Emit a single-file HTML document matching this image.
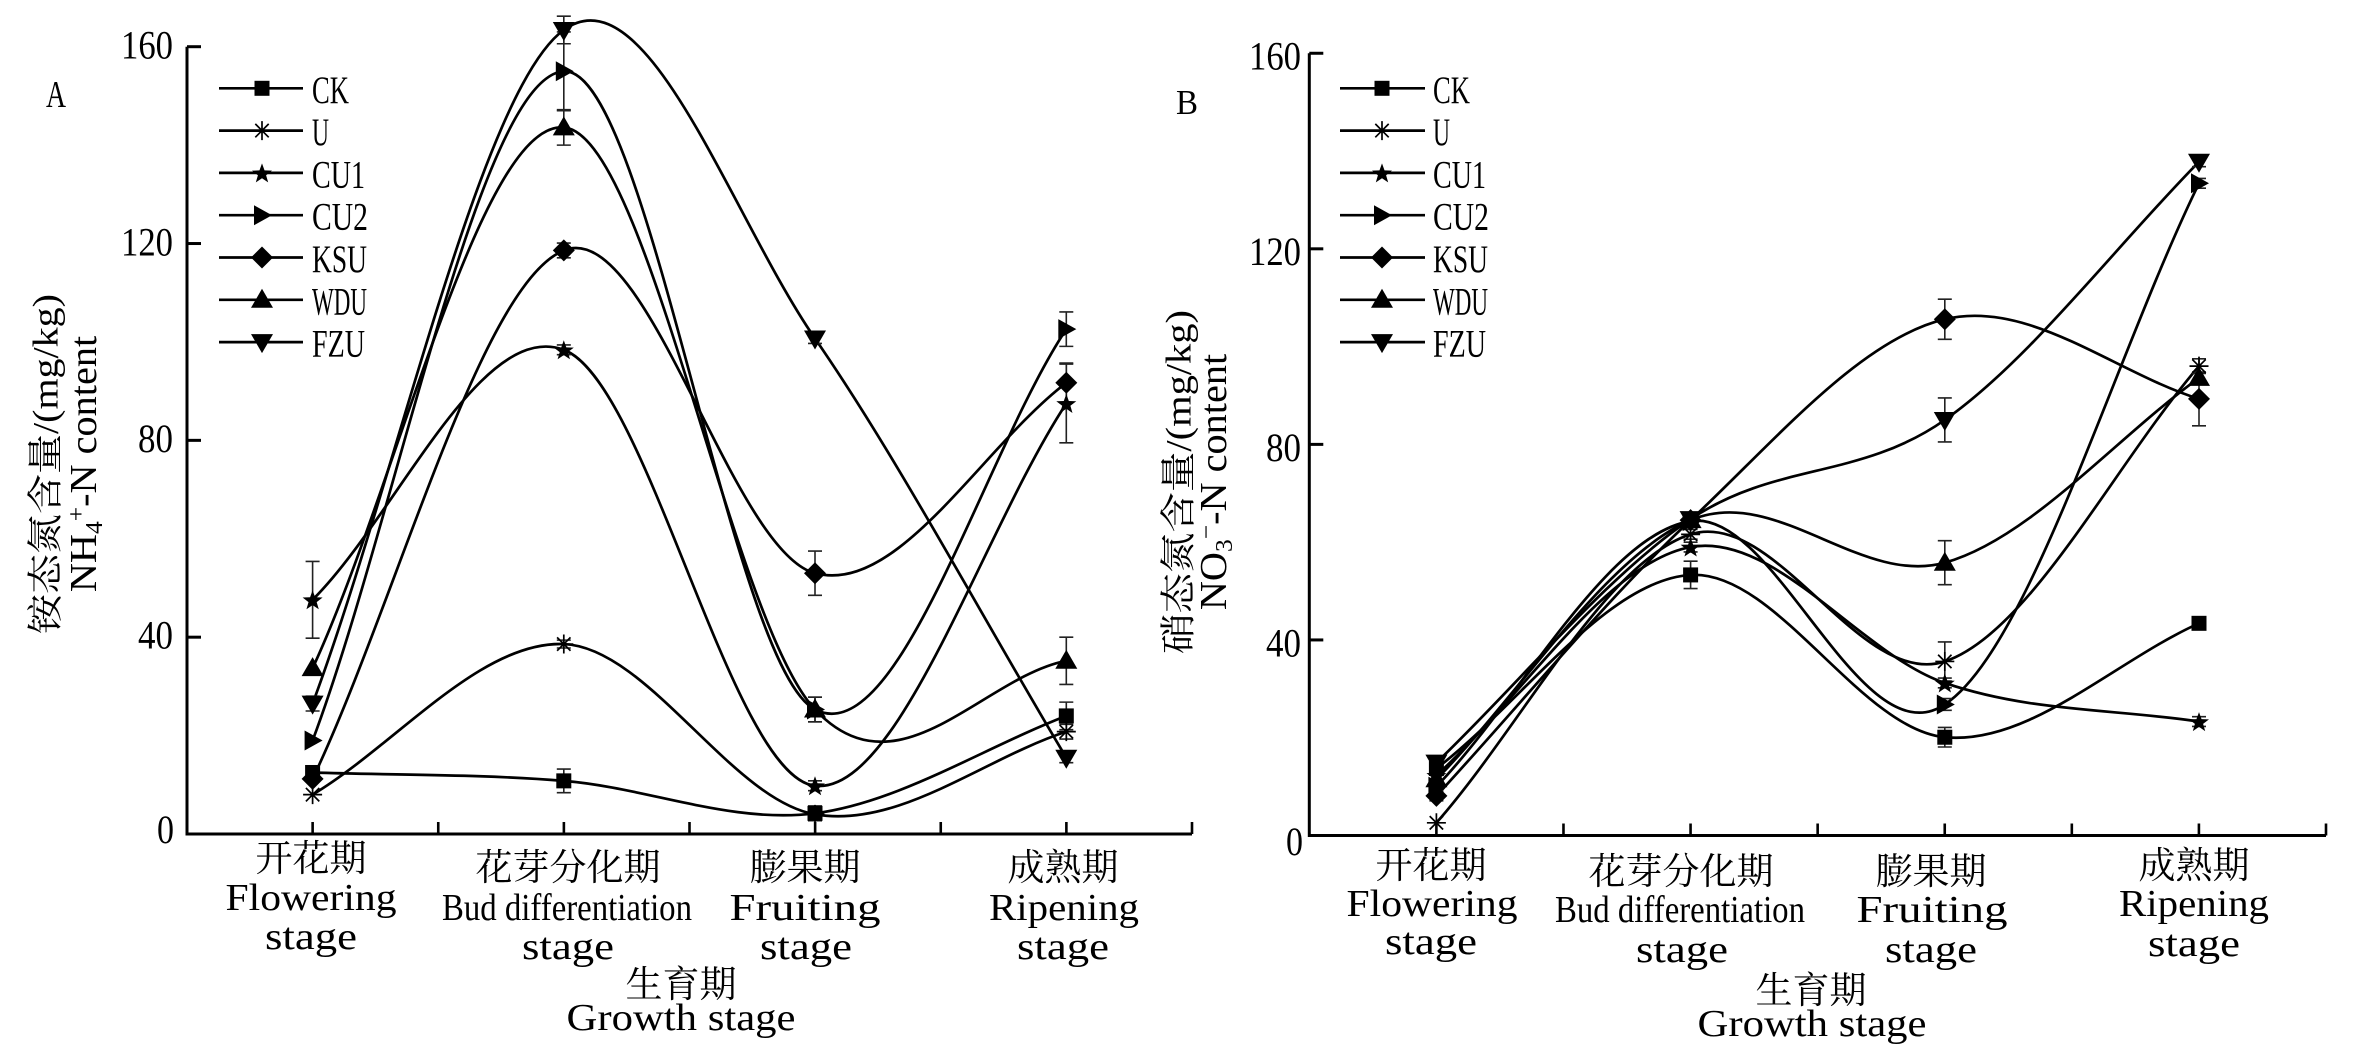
<!DOCTYPE html>
<html>
<head>
<meta charset="utf-8">
<style>
html,body{margin:0;padding:0;background:#fff;}
svg{display:block;}
.ser{font-family:"Liberation Serif","Noto Serif CJK SC",serif;}
.cjk{font-family:"Liberation Serif","Noto Serif CJK SC",serif;}
.lat{font-family:"Liberation Serif","Noto Serif CJK SC",serif;}
</style>
</head>
<body>
<svg id="chart" width="2362" height="1046" viewBox="0 0 2362 1046" xmlns="http://www.w3.org/2000/svg">
<rect width="2362" height="1046" fill="#fff"/>

<!-- ===== Panel A static ===== -->
<text class="ser" x="46" y="107" font-size="38" textLength="20" lengthAdjust="spacingAndGlyphs">A</text>
<g class="ser" font-size="40" text-anchor="end">
  <text x="173" y="58.7" textLength="52" lengthAdjust="spacingAndGlyphs">160</text>
  <text x="173" y="255.3" textLength="52" lengthAdjust="spacingAndGlyphs">120</text>
  <text x="173" y="452" textLength="35" lengthAdjust="spacingAndGlyphs">80</text>
  <text x="173" y="648.6" textLength="35" lengthAdjust="spacingAndGlyphs">40</text>
  <text x="174" y="843" textLength="17" lengthAdjust="spacingAndGlyphs">0</text>
</g>
<g transform="translate(44,464) rotate(-90)">
  <text class="cjk" x="0" y="13.5" font-size="36" text-anchor="middle" textLength="340" lengthAdjust="spacingAndGlyphs">铵态氮含量/(mg/kg)</text>
</g>
<g transform="translate(84,464) rotate(-90) scale(1.06,1)">
  <text class="lat" x="0" y="12" font-size="38" text-anchor="middle">NH<tspan font-size="24" dy="6">4</tspan><tspan font-size="24" dy="-18">+</tspan><tspan dy="12">-N content</tspan></text>
</g>
<!-- A x labels -->
<g class="cjk" font-size="37" text-anchor="middle">
  <text x="311" y="871">开花期</text>
  <text x="568" y="880">花芽分化期</text>
  <text x="805" y="880">膨果期</text>
  <text x="1063" y="880">成熟期</text>
  <text x="681" y="997">生育期</text>
</g>
<g class="lat" font-size="38" text-anchor="middle">
  <text x="311" y="910" textLength="171" lengthAdjust="spacingAndGlyphs">Flowering</text>
  <text x="311" y="949" textLength="92" lengthAdjust="spacingAndGlyphs">stage</text>
  <text x="567" y="920" textLength="250" lengthAdjust="spacingAndGlyphs">Bud differentiation</text>
  <text x="568" y="959" textLength="92" lengthAdjust="spacingAndGlyphs">stage</text>
  <text x="805" y="920" textLength="151" lengthAdjust="spacingAndGlyphs">Fruiting</text>
  <text x="806" y="959" textLength="92" lengthAdjust="spacingAndGlyphs">stage</text>
  <text x="1064" y="920" textLength="150" lengthAdjust="spacingAndGlyphs">Ripening</text>
  <text x="1063" y="959" textLength="92" lengthAdjust="spacingAndGlyphs">stage</text>
  <text x="681" y="1030" textLength="229" lengthAdjust="spacingAndGlyphs">Growth stage</text>
</g>

<!-- ===== Panel B static ===== -->
<text class="ser" x="1176" y="114" font-size="35" textLength="22" lengthAdjust="spacingAndGlyphs">B</text>
<g class="ser" font-size="40" text-anchor="end">
  <text x="1301" y="69.5" textLength="52" lengthAdjust="spacingAndGlyphs">160</text>
  <text x="1301" y="265" textLength="52" lengthAdjust="spacingAndGlyphs">120</text>
  <text x="1301" y="460.8" textLength="35" lengthAdjust="spacingAndGlyphs">80</text>
  <text x="1301" y="656.4" textLength="35" lengthAdjust="spacingAndGlyphs">40</text>
  <text x="1303" y="855" textLength="17" lengthAdjust="spacingAndGlyphs">0</text>
</g>
<g transform="translate(1177,482) rotate(-90)">
  <text class="cjk" x="0" y="13.5" font-size="36" text-anchor="middle" textLength="344" lengthAdjust="spacingAndGlyphs">硝态氮含量/(mg/kg)</text>
</g>
<g transform="translate(1214,482) rotate(-90) scale(1.06,1)">
  <text class="lat" x="0" y="12" font-size="38" text-anchor="middle">NO<tspan font-size="24" dy="6">3</tspan><tspan font-size="24" dy="-18">−</tspan><tspan dy="12">-N content</tspan></text>
</g>
<g class="cjk" font-size="37" text-anchor="middle">
  <text x="1431" y="878">开花期</text>
  <text x="1681" y="884">花芽分化期</text>
  <text x="1931" y="884">膨果期</text>
  <text x="2194" y="878">成熟期</text>
  <text x="1811" y="1003">生育期</text>
</g>
<g class="lat" font-size="38" text-anchor="middle">
  <text x="1432" y="916" textLength="171" lengthAdjust="spacingAndGlyphs">Flowering</text>
  <text x="1431" y="954" textLength="92" lengthAdjust="spacingAndGlyphs">stage</text>
  <text x="1680" y="922" textLength="250" lengthAdjust="spacingAndGlyphs">Bud differentiation</text>
  <text x="1682" y="962" textLength="92" lengthAdjust="spacingAndGlyphs">stage</text>
  <text x="1932" y="922" textLength="151" lengthAdjust="spacingAndGlyphs">Fruiting</text>
  <text x="1931" y="962" textLength="92" lengthAdjust="spacingAndGlyphs">stage</text>
  <text x="2194" y="916" textLength="150" lengthAdjust="spacingAndGlyphs">Ripening</text>
  <text x="2194" y="956" textLength="92" lengthAdjust="spacingAndGlyphs">stage</text>
  <text x="1812" y="1036" textLength="229" lengthAdjust="spacingAndGlyphs">Growth stage</text>
</g>

<g id="dyn"></g>
</svg>

<script>
(function(){
  var dyn = document.getElementById("dyn");
  var out = [];

  var PA = {x:[312.6,563.8,815,1066.3], y0:834, k:4.9206, ax0:187, ax1:1192, ytop:46.7,
            legX1:219, legX2:303, legM:262, legT:312};
  var PB = {x:[1436.4,1690.6,1944.8,2199], y0:835.5, k:4.889, ax0:1309.3, ax1:2326, ytop:53.3,
            legX1:1340, legX2:1425, legM:1382, legT:1433};

  var names = ["CK","U","CU1","CU2","KSU","WDU","FZU"];
  var mk = ["sq","ast","star","right","dia","up","down"];
  var legW = [37,17,53,56,55,55,53];

  var dataA = [
    [12.5,10.8,4.2,24],
    [8,38.6,4,20.8],
    [47.6,98.4,9.8,87.5],
    [19,155,25.3,102.6],
    [11.2,118.6,53,91.7],
    [33.7,143.6,25.3,35.2],
    [26.5,163.4,100.7,15.5]
  ];
  var errA = [
    [0,2.4,1.5,2.8],
    [0,0.8,1,1.5],
    [7.8,1,1,8],
    [0,8,2.5,3.5],
    [0,1.5,4.5,4],
    [0,3.6,2.5,4.8],
    [1.5,2.8,1,1]
  ];
  var dataB = [
    [13.7,53.3,20.1,43.4],
    [2.6,61.6,35.6,96],
    [12.3,59,31.2,23.3],
    [10,64.3,26.8,133.4],
    [8.1,64.5,105.6,89.3],
    [11.5,64.5,55.8,93.6],
    [14.9,64.7,85,137.8]
  ];
  var errB = [
    [1,2.8,2,1],
    [0,1,4,1.5],
    [1,1,1,1],
    [1,1,1.2,1],
    [1,1,4.1,5.5],
    [1,1,4.5,1],
    [1,1,4.5,1]
  ];

  function f(n){return Math.round(n*100)/100;}

  function marker(t,x,y){
    switch(t){
      case "sq": return '<rect x="'+f(x-7.5)+'" y="'+f(y-7.5)+'" width="15" height="15" fill="#000"/>';
      case "ast": {
        var r=9.5, d=6.7;
        return '<path d="M'+f(x-r)+','+f(y)+'H'+f(x+r)+'M'+f(x)+','+f(y-r)+'V'+f(y+r)+
          'M'+f(x-d)+','+f(y-d)+'L'+f(x+d)+','+f(y+d)+'M'+f(x-d)+','+f(y+d)+'L'+f(x+d)+','+f(y-d)+
          '" stroke="#000" stroke-width="1.7" fill="none"/>';
      }
      case "star": {
        var pts=[], R=10.5, ri=4.3;
        for(var i=0;i<10;i++){
          var a=-Math.PI/2+i*Math.PI/5, rr=(i%2==0)?R:ri;
          pts.push(f(x+rr*Math.cos(a))+','+f(y+1+rr*Math.sin(a)));
        }
        return '<polygon points="'+pts.join(' ')+'" fill="#000"/>';
      }
      case "right": return '<polygon points="'+f(x-8)+','+f(y-10)+' '+f(x+10)+','+f(y)+' '+f(x-8)+','+f(y+10)+'" fill="#000"/>';
      case "dia": return '<polygon points="'+f(x)+','+f(y-11)+' '+f(x+11)+','+f(y)+' '+f(x)+','+f(y+11)+' '+f(x-11)+','+f(y)+'" fill="#000"/>';
      case "up": return '<polygon points="'+f(x)+','+f(y-11)+' '+f(x+11)+','+f(y+8)+' '+f(x-11)+','+f(y+8)+'" fill="#000"/>';
      case "down": return '<polygon points="'+f(x)+','+f(y+11)+' '+f(x+11)+','+f(y-8)+' '+f(x-11)+','+f(y-8)+'" fill="#000"/>';
    }
    return '';
  }

  function spline(p){
    var n=p.length, T=[];
    for(var i=0;i<n;i++){
      if(i==0) T.push([p[1][0]-p[0][0], p[1][1]-p[0][1]]);
      else if(i==n-1) T.push([p[i][0]-p[i-1][0], p[i][1]-p[i-1][1]]);
      else T.push([(p[i+1][0]-p[i-1][0])/2, (p[i+1][1]-p[i-1][1])/2]);
    }
    var d='M'+f(p[0][0])+','+f(p[0][1]);
    for(var i=0;i<n-1;i++){
      d+='C'+f(p[i][0]+T[i][0]/3)+','+f(p[i][1]+T[i][1]/3)+' '+
             f(p[i+1][0]-T[i+1][0]/3)+','+f(p[i+1][1]-T[i+1][1]/3)+' '+
             f(p[i+1][0])+','+f(p[i+1][1]);
    }
    return d;
  }

  function panel(P, data, err){
    out.push('<path d="M'+P.ax0+','+P.ytop+'V'+P.y0+'H'+P.ax1+'" stroke="#000" stroke-width="3" fill="none"/>');
    for(var v=40; v<=160; v+=40){
      var yy=P.y0-v*P.k;
      out.push('<path d="M'+P.ax0+','+f(yy)+'H'+f(P.ax0+14)+'" stroke="#000" stroke-width="3"/>');
    }
    var step=(P.ax1-P.ax0)/8;
    for(var j=1;j<=8;j++){
      var xx=P.ax0+step*j;
      out.push('<path d="M'+f(xx)+','+P.y0+'V'+f(P.y0-12)+'" stroke="#000" stroke-width="2.6"/>');
    }
    for(var s=0;s<data.length;s++){
      var p=data[s].map(function(v,i){return [P.x[i], P.y0-v*P.k];});
      out.push('<path d="'+spline(p)+'" stroke="#000" stroke-width="2.7" fill="none"/>');
    }
    for(var s=0;s<data.length;s++){
      for(var i=0;i<4;i++){
        var e=err[s][i]; if(!e) continue;
        var x=P.x[i], y1=P.y0-(data[s][i]+e)*P.k, y2=P.y0-(data[s][i]-e)*P.k;
        out.push('<path d="M'+f(x)+','+f(y1)+'V'+f(y2)+'M'+f(x-7)+','+f(y1)+'H'+f(x+7)+'M'+f(x-7)+','+f(y2)+'H'+f(x+7)+'" stroke="#222" stroke-width="1.6" fill="none"/>');
      }
    }
    for(var s=0;s<data.length;s++){
      for(var i=0;i<4;i++){
        out.push(marker(mk[s], P.x[i], P.y0-data[s][i]*P.k));
      }
    }
    for(var s=0;s<7;s++){
      var ly=88.3+42.3*s;
      out.push('<path d="M'+P.legX1+','+f(ly)+'H'+P.legX2+'" stroke="#000" stroke-width="2.7"/>');
      out.push(marker(mk[s], P.legM, ly));
      out.push('<text x="'+P.legT+'" y="'+f(ly+14.5)+'" font-family="Liberation Serif, serif" font-size="39" textLength="'+legW[s]+'" lengthAdjust="spacingAndGlyphs">'+names[s]+'</text>');
    }
  }

  panel(PA, dataA, errA);
  panel(PB, dataB, errB);

  dyn.innerHTML = out.join('');
})();
</script>
</body>
</html>
